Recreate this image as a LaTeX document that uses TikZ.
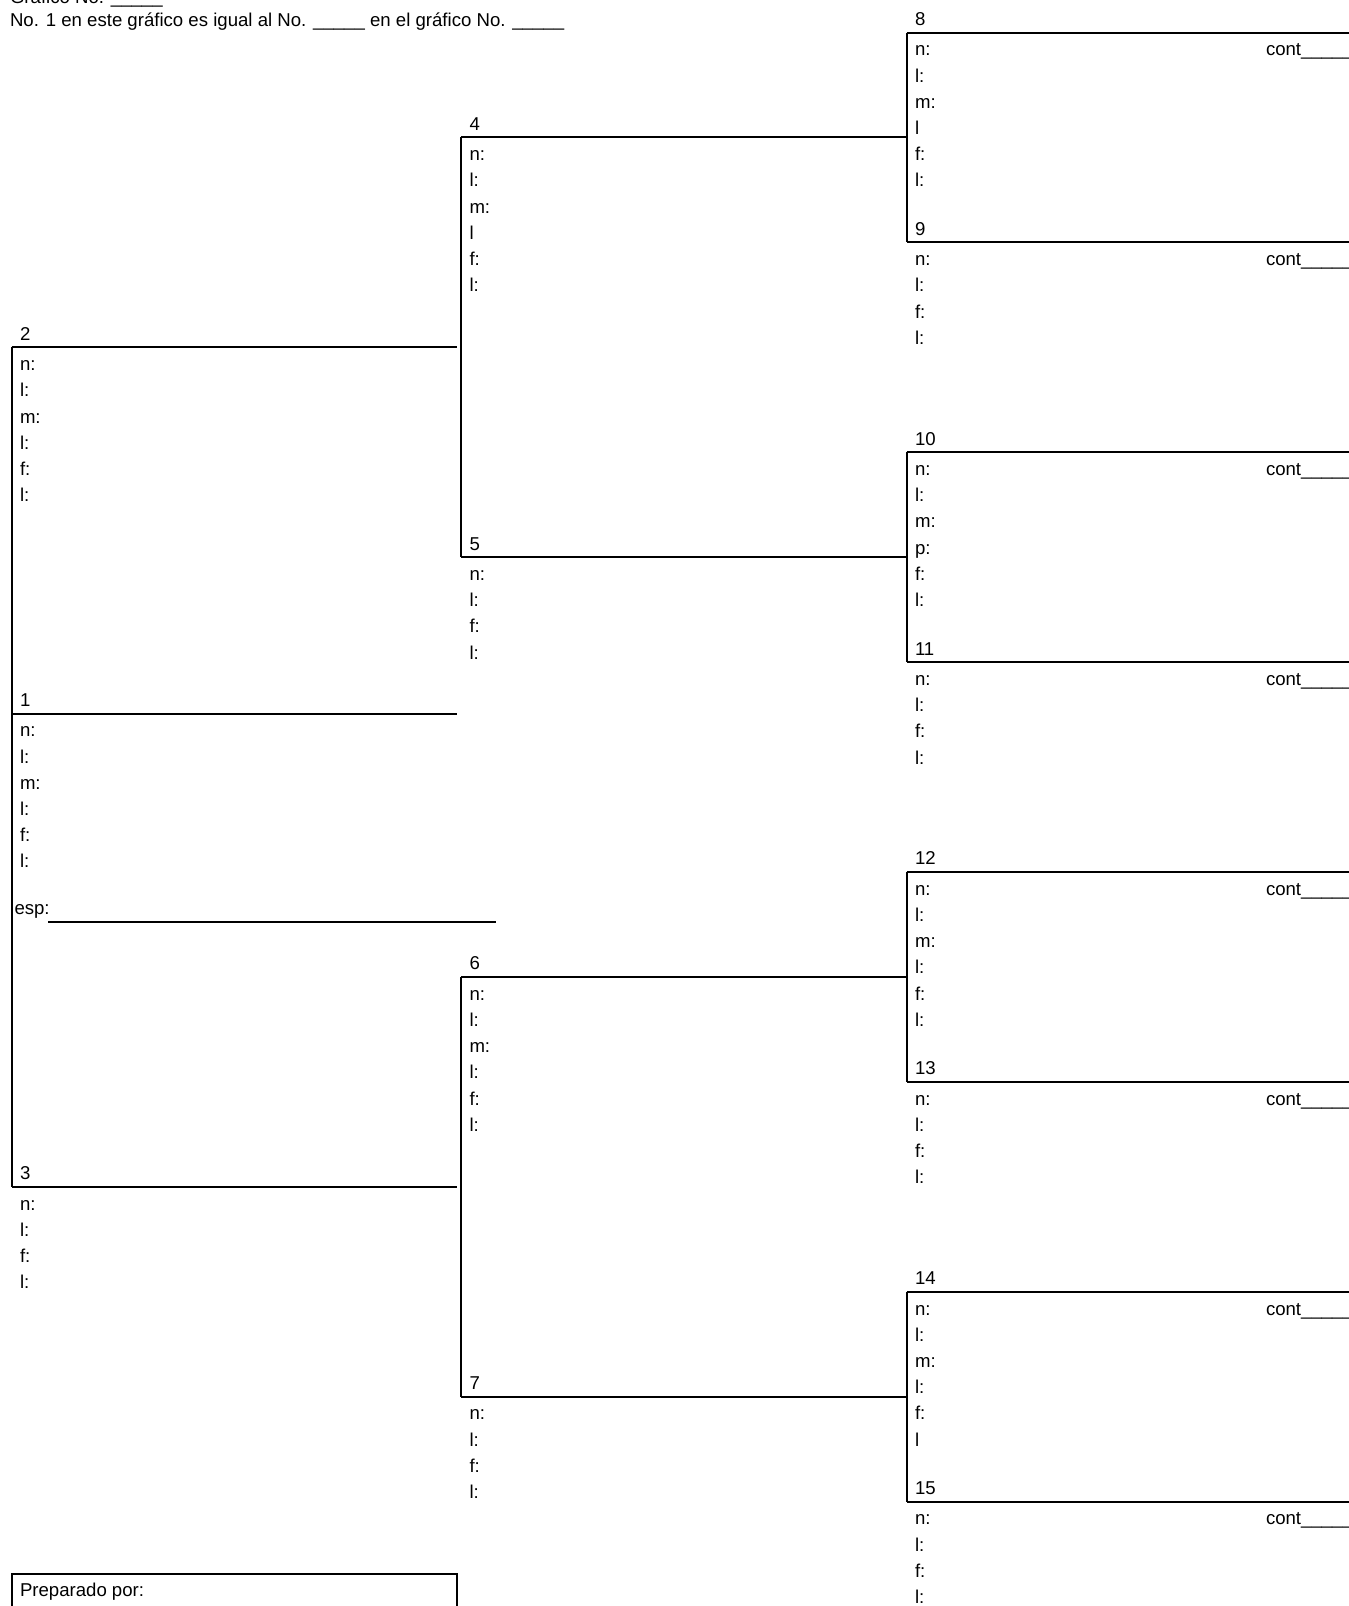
\documentclass[tikz,border=0pt]{standalone}
\usepackage{fontspec}
\setmainfont{Liberation Sans}
\tikzset{
  txt/.style={anchor=base west, inner sep=0pt, outer sep=0pt, font=\fontsize{18.6}{22}\selectfont},
  ln/.style={line width=2pt, draw=black}
}
% #1 id, #2 x of left vertical, #3 y of line, #4 fields, #5 right end x
\newcommand\famperson[5]{%
  \coordinate (L#1) at (#2,#3);
  \coordinate (R#1) at (#5,#3);
  \draw[ln] (L#1) -- (R#1);
  \node[txt] (N#1) at (#2+8.5,#3-7) {#1};
  \foreach \f [count=\i from 0] in {#4} {\node[txt] (F#1-\i) at (#2+8.5,#3+23.3+26.2*\i) {\f};}
}
\newcommand\famcont[2]{% #1 id, #2 y of line
  \node[txt] (C#1) at (1266,#2+23.3) {cont\_\_\_\_\_};
}
\begin{document}
\begin{tikzpicture}[x=1pt,y=-1pt]
\useasboundingbox (0,0) rectangle (1349,1606);
% header
\node[txt] (hdr1) at (10,4) {Gráfico No. \_\_\_\_\_};
\node[txt] (hdr2) at (10,26) {No. 1 en este gráfico es igual al No. \_\_\_\_\_ en el gráfico No. \_\_\_\_\_};
% column C
\def\xC{906.5}
\famperson{8}{\xC}{32.5}{n:,l:,m:,l,f:,l:}{1360}\famcont{8}{32.5}
\famperson{9}{\xC}{242.4}{n:,l:,f:,l:}{1360}\famcont{9}{242.4}
\famperson{10}{\xC}{452.2}{n:,l:,m:,p:,f:,l:}{1360}\famcont{10}{452.2}
\famperson{11}{\xC}{662.1}{n:,l:,f:,l:}{1360}\famcont{11}{662.1}
\famperson{12}{\xC}{871.9}{n:,l:,m:,l:,f:,l:}{1360}\famcont{12}{871.9}
\famperson{13}{\xC}{1081.8}{n:,l:,f:,l:}{1360}\famcont{13}{1081.8}
\famperson{14}{\xC}{1291.7}{n:,l:,m:,l:,f:,l}{1360}\famcont{14}{1291.7}
\famperson{15}{\xC}{1501.5}{n:,l:,f:,l:}{1360}\famcont{15}{1501.5}
% column B
\def\xB{461}
\famperson{4}{\xB}{137.4}{n:,l:,m:,l,f:,l:}{\xC}
\famperson{5}{\xB}{557.2}{n:,l:,f:,l:}{\xC}
\famperson{6}{\xB}{976.9}{n:,l:,m:,l:,f:,l:}{\xC}
\famperson{7}{\xB}{1396.6}{n:,l:,f:,l:}{\xC}
% column A
\def\xA{11.5}
\famperson{2}{\xA}{347.3}{n:,l:,m:,l:,f:,l:}{457.3}
\famperson{1}{\xA}{713.5}{n:,l:,m:,l:,f:,l:}{457.3}
\famperson{3}{\xA}{1186.8}{n:,l:,f:,l:}{457.3}
% verticals
\draw[ln] (L8) -- (L9);
\draw[ln] (L10) -- (L11);
\draw[ln] (L12) -- (L13);
\draw[ln] (L14) -- (L15);
\draw[ln] (L4) -- (L5);
\draw[ln] (L6) -- (L7);
\draw[ln] (L2) -- (L3);
% esp
\node[txt] (esp) at (14.5,914.5) {esp:};
\coordinate (espA) at (48.3,921.7);
\coordinate (espB) at (495.7,921.7);
\draw[ln] (espA) -- (espB);
% preparado
\coordinate (pA) at (\xA,1620);
\coordinate (pB) at (\xA,1574.3);
\coordinate (pC) at (457.3,1574.3);
\coordinate (pD) at (457.3,1620);
\draw[ln] (pA) -- (pB) -- (pC) -- (pD);
\node[txt] (prep) at (\xA+8.5,1596) {Preparado por:};
\end{tikzpicture}
\end{document}
